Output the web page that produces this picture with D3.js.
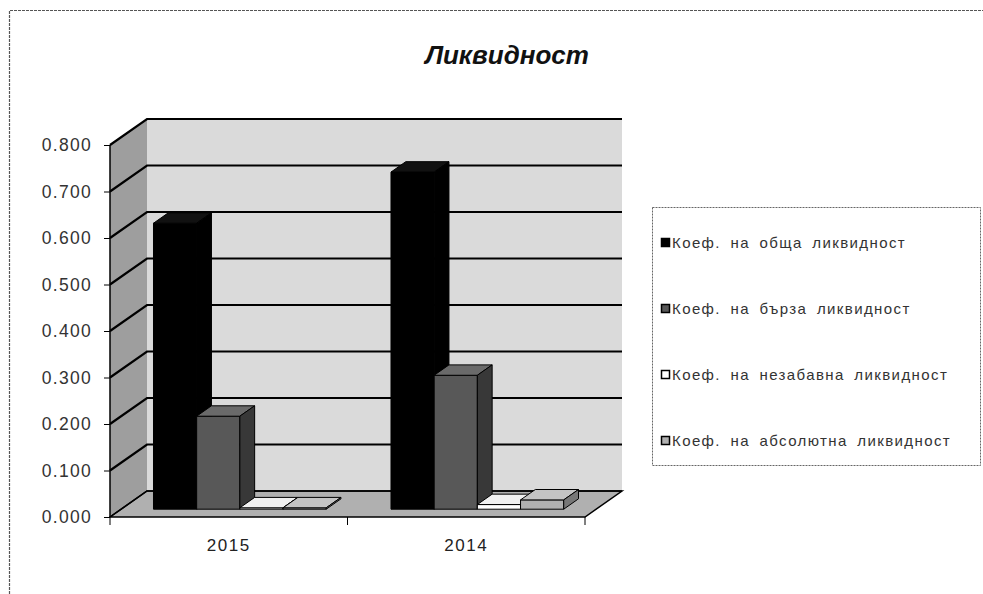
<!DOCTYPE html>
<html><head><meta charset="utf-8">
<script src="https://cdn.jsdelivr.net/npm/d3@7"></script>
<style>body{margin:0;background:#fff}svg{display:block}text{font-family:"Liberation Sans",Arial,sans-serif}</style>
</head><body>
<script>
const title = "Ликвидност";
const categories = ["2015", "2014"];
const seriesNames = ["Коеф. на обща ликвидност", "Коеф. на бърза ликвидност", "Коеф. на незабавна ликвидност", "Коеф. на абсолютна ликвидност"];
const obshta = [0.615, 0.725];
const barza = [0.200, 0.288];
const nezabavna = [0.003, 0.010];
const absolutna = [0.003, 0.020];
const yTicks = [0, 0.1, 0.2, 0.3, 0.4, 0.5, 0.6, 0.7, 0.8];
const seriesValues = [obshta, barza, nezabavna, absolutna];

const W = 983, H = 594;
const fills = [
  {front:"#000", side:"#000", top:"#111"},
  {front:"#585858", side:"#383838", top:"#6a6a6a"},
  {front:"#fff", side:"#ddd", top:"#f0f0f0"},
  {front:"#b0b0b0", side:"#777", top:"#c4c4c4"}
];
const legendFills = ["#000", "#585858", "#fff", "#b0b0b0"];

const svg = d3.select("body").append("svg").attr("width", W).attr("height", H);

// outer border (dotted)
svg.append("path").attr("d", `M9.5,${H}V10.5H${W}`).attr("fill","none")
  .attr("stroke","#555").attr("stroke-width",1.2).attr("stroke-dasharray","3,1");

const x0 = d3.scaleBand().domain(categories).range([110, 585]);
const xs = d3.scaleBand().domain(d3.range(seriesNames.length)).range([0, x0.bandwidth()]).paddingInner(0).paddingOuter(0.75);
const y = d3.scaleLinear().domain([0, 0.8]).range([517, 145]);
const DX = 37, DY = -26;
const P = (xv, v, d) => [xv + d*DX, y(v) + d*DY];
const poly = pts => "M" + pts.map(p => p.join(",")).join("L") + "Z";

const x1 = x0.range()[0], x2 = x0.range()[1];
const vMax = y.domain()[1];

// back wall
svg.append("path").attr("d", poly([P(x1,0,1), P(x1,vMax,1), P(x2,vMax,1), P(x2,0,1)]))
  .attr("fill", "#dadada");
// side wall
svg.append("path").attr("d", poly([P(x1,0,0), P(x1,vMax,0), P(x1,vMax,1), P(x1,0,1)]))
  .attr("fill", "#9e9e9e");
// floor
svg.append("path").attr("d", poly([P(x1,0,0), P(x2,0,0), P(x2,0,1), P(x1,0,1)]))
  .attr("fill", "#b0b0b0").attr("stroke","#000").attr("stroke-width",1.5);
// gridlines
yTicks.forEach(t => {
  if (t === 0) return;
  svg.append("path").attr("d", "M" + [P(x1,t,0), P(x1,t,1), P(x2,t,1)].map(p=>p.join(",")).join("L"))
    .attr("fill","none").attr("stroke","#000").attr("stroke-width",2.2);
});
svg.append("path").attr("d", "M" + [P(x1,0,0), P(x1,0,1), P(x2,0,1)].map(p=>p.join(",")).join("L"))
  .attr("fill","none").attr("stroke","#000").attr("stroke-width",1.5);

// bars
const dF = 0.3, dB = 0.7;
categories.forEach((c, ci) => {
  seriesValues.forEach((vals, si) => {
    const v = vals[ci];
    const L = x0(c) + xs(si), R = L + xs.bandwidth();
    const g = svg.append("g");
    const f = fills[si];
    g.append("path").attr("d", poly([P(L,0,dF), P(L,v,dF), P(R,v,dF), P(R,0,dF)]))
      .attr("fill", f.front).attr("stroke","#000").attr("stroke-width",1);
    g.append("path").attr("d", poly([P(L,v,dF), P(L,v,dB), P(R,v,dB), P(R,v,dF)]))
      .attr("fill", f.top).attr("stroke","#000").attr("stroke-width",1);
    g.append("path").attr("d", poly([P(R,0,dF), P(R,v,dF), P(R,v,dB), P(R,0,dB)]))
      .attr("fill", f.side).attr("stroke","#000").attr("stroke-width",1);
  });
});

// y axis
svg.append("line").attr("x1",x1).attr("x2",x1).attr("y1",y(vMax)).attr("y2",y(0))
  .attr("stroke","#000").attr("stroke-width",1.5);
const yAxis = d3.axisLeft(y).tickValues(yTicks).tickFormat(d3.format(".3f")).tickSize(6).tickPadding(12);
const ya = svg.append("g").attr("transform",`translate(${x1},0)`).call(yAxis);
ya.select(".domain").remove();
ya.selectAll("line").attr("stroke","#000");
ya.selectAll("text").attr("font-size",17.5).attr("fill","#333").attr("letter-spacing","1.3px")
  .attr("font-family","'Liberation Sans',Arial,sans-serif");

// x axis
const xAxis = d3.axisBottom(x0).tickSize(0).tickPadding(22);
const xa = svg.append("g").attr("transform",`translate(0,${y(0)})`).call(xAxis);
xa.select(".domain").remove();
xa.selectAll("text").attr("font-size",17).attr("fill","#222").attr("letter-spacing","1.5px")
  .attr("font-family","'Liberation Sans',Arial,sans-serif");
[x1, x0("2014"), x2].forEach(xx => {
  svg.append("line").attr("x1",xx).attr("x2",xx).attr("y1",y(0)).attr("y2",y(0)+8).attr("stroke","#000");
});

// title
svg.append("text").attr("x",507).attr("y",64).attr("text-anchor","middle")
  .attr("font-size",26).attr("font-weight","bold").attr("font-style","italic").attr("fill","#111").text(title);

// legend
svg.append("rect").attr("x",652.5).attr("y",207.5).attr("width",328).attr("height",258)
  .attr("fill","#fff").attr("stroke","#666").attr("stroke-dasharray","2,1");
const lg = svg.append("g");
const legY = d3.scalePoint().domain(seriesNames).range([243, 441]);
seriesNames.forEach((n, i) => {
  lg.append("rect").attr("x",661.5).attr("y",legY(n)-4.5).attr("width",8).attr("height",8)
    .attr("fill",legendFills[i]).attr("stroke","#000").attr("stroke-width",1.5);
  lg.append("text").attr("x",672).attr("y",legY(n)+5).attr("font-size",15).attr("fill","#333")
    .attr("letter-spacing","1.4px").attr("word-spacing","4px").text(n);
});
</script>
</body></html>
